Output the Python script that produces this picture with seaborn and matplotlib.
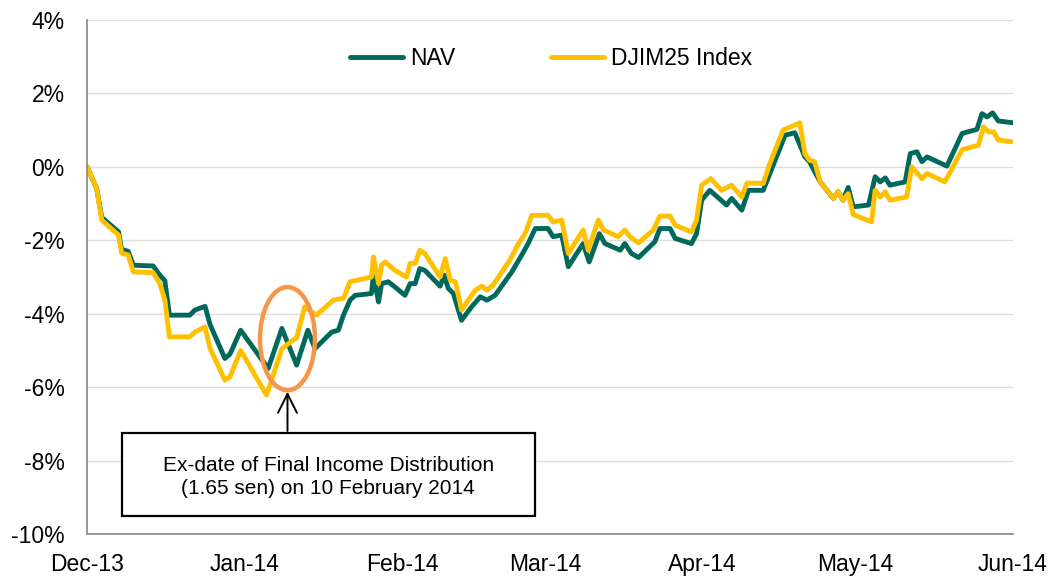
import numpy as np
import pandas as pd
import matplotlib
matplotlib.use("Agg")
import matplotlib.pyplot as plt
import seaborn as sns
from matplotlib.patches import Ellipse, Rectangle

# days since 1 Dec 2013, cumulative return (%)
nav_days = [0, 1.9, 2.9, 6.2, 6.8, 8.1, 9.1, 13.0, 14.3, 15.3, 16.2, 20.2, 21.2, 23.2, 24.2,
            27.1, 28.1, 30.2, 35.6, 38.3, 41.2, 43.4, 44.8, 48.1, 49.4, 50.4, 51.7, 52.7,
            55.9, 56.3, 57.3, 57.9, 59.2, 60.5, 62.5, 63.5, 64.5, 65.4, 66.4, 69.4, 70.2,
            71.0, 72.0, 73.6, 75.6, 77.3, 78.6, 80.2, 83.5, 85.4, 86.7, 88.1, 90.6, 91.6,
            93.3, 94.6, 97.5, 98.7, 100.7, 101.8, 104.8, 105.7, 107.0, 108.4, 111.6, 112.6,
            114.6, 115.6, 118.8, 119.8, 120.8, 122.4, 125.7, 126.7, 128.7, 130.0, 132.9,
            137.2, 139.1, 141.1, 142.0, 144.1, 146.7, 147.6, 148.6, 149.6, 150.6, 153.6,
            154.9, 155.9, 156.9, 157.8, 160.8, 161.8, 163.1, 164.1, 165.1, 169.0, 172.0,
            174.9, 175.9, 176.9, 178.0, 179.1, 182.0]
nav_vals = [0, -0.59, -1.38, -1.77, -2.25, -2.30, -2.68, -2.70, -2.95, -3.10, -4.04, -4.04,
            -3.90, -3.80, -4.30, -5.22, -5.10, -4.45, -5.49, -4.40, -5.40, -4.45, -4.95,
            -4.50, -4.45, -4.04, -3.63, -3.50, -3.45, -2.95, -3.68, -3.18, -3.13, -3.27,
            -3.50, -3.18, -3.18, -2.77, -2.82, -3.25, -2.95, -3.31, -3.45, -4.18, -3.81,
            -3.54, -3.63, -3.50, -2.86, -2.41, -2.09, -1.68, -1.68, -1.90, -1.86, -2.72,
            -2.09, -2.59, -1.82, -2.09, -2.27, -2.09, -2.36, -2.47, -2.04, -1.68, -1.68,
            -1.95, -2.09, -1.82, -0.91, -0.64, -1.04, -0.86, -1.18, -0.64, -0.64, 0.86,
            0.93, 0.27, 0.14, -0.41, -0.86, -0.68, -0.91, -0.56, -1.09, -1.04, -0.27,
            -0.41, -0.30, -0.50, -0.41, 0.36, 0.41, 0.14, 0.27, 0.02, 0.91, 1.02, 1.45,
            1.36, 1.47, 1.25, 1.20]

idx_days = [0, 1.9, 2.9, 6.2, 6.8, 8.1, 9.1, 13.0, 14.3, 15.3, 16.2, 20.2, 21.2, 23.2, 24.2,
            27.1, 28.1, 30.2, 35.3, 38.3, 41.2, 42.8, 45.1, 48.4, 50.4, 51.7, 55.9, 56.3,
            57.3, 57.9, 58.6, 60.5, 62.8, 63.5, 64.5, 65.4, 66.4, 69.4, 70.4, 71.4, 72.4,
            73.6, 76.3, 77.6, 78.6, 79.8, 83.1, 84.8, 86.1, 87.4, 90.6, 91.6, 93.3, 94.6,
            97.5, 98.5, 100.5, 101.5, 104.4, 105.7, 106.7, 108.4, 111.3, 112.6, 114.6,
            115.6, 118.8, 119.8, 120.8, 122.6, 124.7, 126.7, 128.7, 129.7, 132.9, 134.2,
            136.8, 140.1, 141.1, 142.0, 143.0, 144.1, 146.7, 147.6, 148.6, 149.6, 150.6,
            154.2, 154.9, 155.9, 156.9, 157.8, 161.1, 162.1, 164.1, 165.1, 168.6, 172.0,
            175.2, 176.2, 177.2, 178.2, 179.1, 182.0]
idx_vals = [0, -0.59, -1.45, -1.86, -2.35, -2.40, -2.86, -2.88, -3.18, -3.63, -4.63, -4.63,
            -4.50, -4.36, -4.95, -5.81, -5.72, -5.00, -6.22, -4.95, -4.65, -3.81, -4.04,
            -3.63, -3.58, -3.13, -3.00, -2.45, -3.18, -2.68, -2.59, -2.82, -3.00, -2.63,
            -2.63, -2.27, -2.36, -3.00, -2.50, -3.09, -3.13, -3.90, -3.36, -3.25, -3.36,
            -3.22, -2.54, -2.09, -1.82, -1.32, -1.32, -1.50, -1.45, -2.36, -1.72, -2.27,
            -1.45, -1.72, -1.90, -1.72, -1.90, -2.07, -1.72, -1.34, -1.34, -1.59, -1.77,
            -1.45, -0.50, -0.32, -0.64, -0.50, -0.82, -0.44, -0.45, 0.09, 1.00, 1.20, 0.36,
            0.18, 0.14, -0.41, -0.86, -0.68, -0.91, -0.73, -1.30, -1.50, -0.64, -0.82,
            -0.68, -0.91, -0.82, 0.00, -0.32, -0.18, -0.41, 0.47, 0.59, 1.09, 0.95, 0.95,
            0.73, 0.68]

month_days = [0, 31, 62, 90, 121, 151, 182]
month_labels = ["Dec-13", "Jan-14", "Feb-14", "Mar-14", "Apr-14", "May-14", "Jun-14"]

sns.set_theme(style="white")
plt.rcParams["font.family"] = ["Liberation Sans", "DejaVu Sans"]
plt.rcParams["axes.unicode_minus"] = False
plt.rcParams["text.color"] = "black"

fig = plt.figure(figsize=(10.56, 5.81), dpi=100)
ax = fig.add_axes([0.0824, 0.0809, 0.8769, 0.8847])

green = "#00695C"
gold = "#FFC000"
sns.lineplot(x=nav_days, y=nav_vals, ax=ax, color=green, lw=3.5, label="NAV",
             sort=False, estimator=None, solid_joinstyle="round")
sns.lineplot(x=idx_days, y=idx_vals, ax=ax, color=gold, lw=3.5, label="DJIM25 Index",
             sort=False, estimator=None, solid_joinstyle="round")

ax.set_xlim(0, 182)
ax.set_ylim(-10, 4)
ax.set_yticks(np.arange(-10, 5, 2))
ax.set_yticklabels([f"{v}%" for v in range(-10, 5, 2)])
ax.set_xticks(month_days)
ax.set_xticklabels(month_labels)
ax.yaxis.grid(True, color="#DDDDDD", lw=1)
ax.set_axisbelow(True)
for s in ["top", "right"]:
    ax.spines[s].set_visible(False)
for s in ["left", "bottom"]:
    ax.spines[s].set_color("#868686")
    ax.spines[s].set_linewidth(1.2)
ax.tick_params(axis="both", which="major", direction="out", length=5, width=1.2,
               color="#868686", labelsize=16.5, labelcolor="black")
ax.tick_params(axis="y", pad=11)
ax.tick_params(axis="x", pad=9)
ax.set_xlabel("")
ax.set_ylabel("")

leg = ax.legend(loc="center", bbox_to_anchor=(0.522, 0.90), bbox_transform=fig.transFigure,
                ncol=2, frameon=False, fontsize=16.5, handlelength=2.3, columnspacing=4.2,
                handletextpad=0.3)
for t in leg.get_texts():
    t.set_color("black")

# annotation: circle, arrow and box
ax.add_patch(Ellipse((39.4, -4.68), 10.8, 2.81, fill=False, edgecolor="#F79646", lw=3.2,
                     zorder=5))
ax.annotate("", xy=(39.4, -6.05), xytext=(39.4, -7.27),
            arrowprops=dict(arrowstyle="->", color="black", lw=1.4, mutation_scale=34))
ax.add_patch(Rectangle((6.9, -9.52), 81.1, 2.26, fill=True, facecolor="white",
                       edgecolor="black", lw=1.6, zorder=6))
ax.text(47.4, -8.45, "Ex-date of Final Income Distribution\n(1.65 sen) on 10 February 2014",
        ha="center", va="center", multialignment="center", fontsize=15, zorder=7,
        linespacing=1.32, color="black")

fig.savefig("out.png", dpi=100)
